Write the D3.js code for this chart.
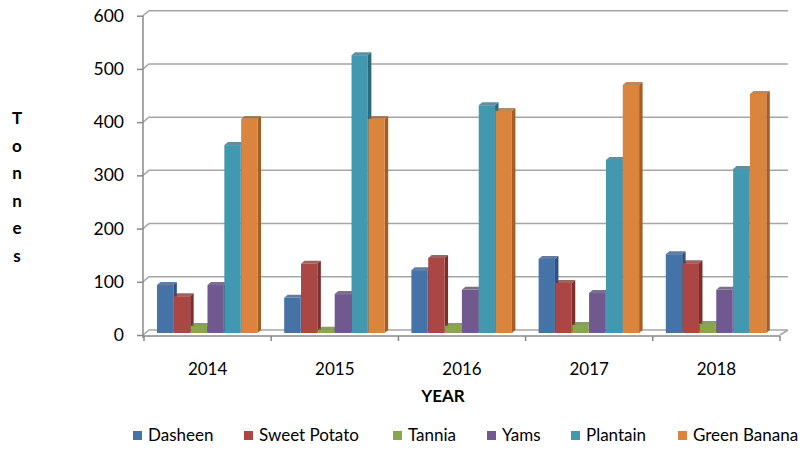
<!DOCTYPE html>
<html>
<head>
<meta charset="utf-8">
<script src="https://cdn.jsdelivr.net/npm/d3@7"></script>
<style>
  body { margin: 0; background: #fff; }
  text { font-family: Lato, "Open Sans", sans-serif; fill: #000; }
</style>
</head>
<body>
<div id="chart"></div>
<script>
// data
var years = ["2014", "2015", "2016", "2017", "2018"];
var seriesNames = ["Dasheen", "Sweet Potato", "Tannia", "Yams", "Plantain", "Green Banana"];
var dasheen = [92, 68, 120, 141, 150];
var sweetPotato = [71, 132, 143, 96, 133];
var tannia = [15, 8, 15, 17, 19];
var yams = [92, 75, 83, 77, 83];
var plantain = [355, 524, 430, 327, 310];
var greenBanana = [404, 404, 419, 468, 451];
var yTicks = [0, 100, 200, 300, 400, 500, 600];

var seriesValues = [dasheen, sweetPotato, tannia, yams, plantain, greenBanana];
var frontColors = ["#4572A7", "#AA4643", "#89A54E", "#71588F", "#4198AF", "#DB843D"];
var sideColors = ["#2f5283", "#7c2f2d", "#627a35", "#503d68", "#2b6b7d", "#a45f27"];

var svgWidth = 804;
var svgHeight = 451;

// depth offset of the back wall
var depthX = 6, depthY = -5;

var svg = d3.select("#chart")
  .append("svg")
  .attr("width", svgWidth)
  .attr("height", svgHeight);

var xScale = d3.scaleBand()
  .domain(years)
  .range([144, 780]);

var innerScale = d3.scaleBand()
  .domain(seriesNames)
  .range([13, 114]);

var yScale = d3.scaleLinear()
  .domain([0, 600])
  .range([335, 15.7]);

// back wall gridlines with the little diagonal joining the axis
var grid = svg.append("g");
yTicks.forEach(function(t) {
  var y = yScale(t);
  grid.append("path")
    .attr("d", `M143,${y} L${143 + depthX},${y + depthY} L788,${y + depthY}`)
    .attr("fill", "none")
    .attr("stroke", "#a6a6a6")
    .attr("stroke-width", 1.5);
});

// floor right edge
svg.append("line")
  .attr("x1", 780).attr("y1", yScale(0))
  .attr("x2", 788).attr("y2", yScale(0) + depthY)
  .attr("stroke", "#a6a6a6")
  .attr("stroke-width", 1.5);

// y axis
var leftAxis = d3.axisLeft(yScale)
  .tickValues(yTicks)
  .tickSize(6)
  .tickPadding(13);

var yAxisG = svg.append("g")
  .attr("transform", "translate(143,0)")
  .call(leftAxis);
yAxisG.select(".domain").attr("stroke", "#888").attr("stroke-width", 1.5)
  .attr("d", `M0,${yScale(600)}V${yScale(0) + 3}`);
yAxisG.selectAll(".tick line").attr("stroke", "#888").attr("stroke-width", 1.5);
yAxisG.selectAll(".tick text")
  .style("font-size", "17.5px")
  .style("font-family", "Lato, sans-serif");

// x axis
var bottomAxis = d3.axisBottom(xScale)
  .tickSize(0)
  .tickPadding(27);

var xAxisG = svg.append("g")
  .attr("transform", `translate(0,${yScale(0) + 1})`)
  .call(bottomAxis);
xAxisG.select(".domain").attr("stroke", "#888").attr("stroke-width", 1.5)
  .attr("d", "M143,0H780");
xAxisG.selectAll(".tick text")
  .style("font-size", "17px")
  .style("font-family", "Lato, sans-serif");

// category tick marks at the borders
var borders = years.map(function(y) { return xScale(y); }).concat([xScale.range()[1]]);
svg.append("g").selectAll("line")
  .data(borders)
  .enter()
  .append("line")
  .attr("x1", d => d).attr("x2", d => d)
  .attr("y1", yScale(0) + 1).attr("y2", yScale(0) + 6)
  .attr("stroke", "#888")
  .attr("stroke-width", 1.5);

// bars drawn as little 3d columns, left to right so each one hides its neighbour's side
var barData = [];
years.forEach(function(yr, i) {
  seriesNames.forEach(function(name, s) {
    barData.push({ year: yr, series: name, s: s, value: seriesValues[s][i] });
  });
});

var bw = innerScale.bandwidth();
var frontW = bw - 0.5;
var sideW = 3.5, topH = 3;
var floorY = yScale(0) - 2;

var bars = svg.append("g").selectAll("g.bar")
  .data(barData)
  .enter()
  .append("g")
  .attr("class", "bar");

bars.append("path")
  .attr("d", function(d) {
    var x0 = xScale(d.year) + innerScale(d.series) + frontW;
    var yTop = yScale(d.value) - 1;
    return `M${x0},${yTop} L${x0 + sideW},${yTop - topH} L${x0 + sideW},${floorY - topH} L${x0},${floorY} Z`;
  })
  .attr("fill", d => sideColors[d.s]);

bars.append("path")
  .attr("d", function(d) {
    var x0 = xScale(d.year) + innerScale(d.series);
    var yTop = yScale(d.value) - 1;
    return `M${x0},${yTop} L${x0 + sideW},${yTop - topH} L${x0 + frontW + sideW},${yTop - topH} L${x0 + frontW},${yTop} Z`;
  })
  .attr("fill", d => sideColors[d.s])
  .attr("opacity", 0.75);

bars.append("rect")
  .attr("x", d => xScale(d.year) + innerScale(d.series))
  .attr("y", d => yScale(d.value) - 1)
  .attr("width", frontW)
  .attr("height", d => floorY - yScale(d.value) + 1)
  .attr("fill", d => frontColors[d.s]);

// axis titles
svg.append("text")
  .attr("x", 443)
  .attr("y", 402)
  .attr("text-anchor", "middle")
  .style("font-size", "17px")
  .style("font-weight", "bold")
  .text("YEAR");

var tonnes = "Tonnes".split("");
svg.append("g").selectAll("text")
  .data(tonnes)
  .enter()
  .append("text")
  .attr("x", 17)
  .attr("y", (d, i) => 124 + i * 27.5)
  .attr("text-anchor", "middle")
  .style("font-size", "17px")
  .style("font-weight", "bold")
  .text(d => d);

// legend
var legendX = [133, 244, 393, 487, 571, 678];
var legend = svg.append("g").selectAll("g")
  .data(seriesNames)
  .enter()
  .append("g")
  .attr("transform", (d, i) => `translate(${legendX[i]},431)`);

legend.append("rect")
  .attr("width", 9)
  .attr("height", 9)
  .attr("fill", (d, i) => frontColors[i]);

legend.append("text")
  .attr("x", 15)
  .attr("y", 10)
  .style("font-size", "17px")
  .text(d => d);
</script>
</body>
</html>
